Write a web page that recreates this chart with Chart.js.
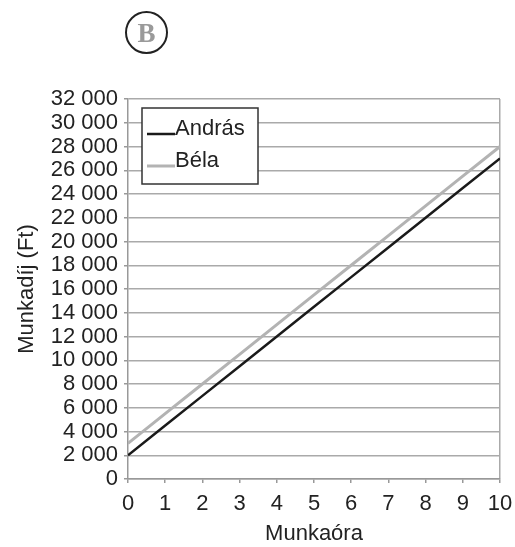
<!DOCTYPE html>
<html>
<head>
<meta charset="utf-8">
<script src="https://cdn.jsdelivr.net/npm/chart.js@4.4.0/dist/chart.umd.min.js"></script>
<style>
  body { margin: 0; background: #fff; }
  #wrap { position: relative; width: 515px; height: 547px; }
  #badge {
    position: absolute; left: 125px; top: 11px; width: 39px; height: 39px;
    border: 2.5px solid #222; border-radius: 50%;
    font: bold 27px "Liberation Serif", serif; color: #9a9a9a;
    text-align: center; line-height: 40px;
  }
</style>
</head>
<body>
<div id="wrap">
  <canvas id="myChart" width="515" height="547"></canvas>
  <div id="badge">B</div>
</div>
<script>
// munkaóra (x) és munkadíj (Ft) a két személyre
const hours = [0, 1, 2, 3, 4, 5, 6, 7, 8, 9, 10];
const andras = [2000, 4500, 7000, 9500, 12000, 14500, 17000, 19500, 22000, 24500, 27000];
const bela = [3000, 5500, 8000, 10500, 13000, 15500, 18000, 20500, 23000, 25500, 28000];
const seriesNames = ['András', 'Béla'];

const fontFamily = '"Liberation Sans", Arial, sans-serif';
const textColor = '#222';
const fontSize = 22;

// legend a diagramon belül, keretben
const boxLegend = {
    id: 'boxLegend',
    afterDraw(chart) {
        const ctx = chart.ctx;
        const x0 = 142, y0 = 108, w = 116, h = 76;
        ctx.save();
        ctx.fillStyle = '#fff';
        ctx.fillRect(x0, y0, w, h);
        ctx.strokeStyle = '#333';
        ctx.lineWidth = 1.5;
        ctx.strokeRect(x0, y0, w, h);
        ctx.font = fontSize + 'px ' + fontFamily;
        ctx.textBaseline = 'middle';
        ctx.fillStyle = textColor;
        chart.data.datasets.forEach((ds, i) => {
            const ly = 134 + i * 32;
            ctx.strokeStyle = ds.borderColor;
            ctx.lineWidth = ds.borderWidth;
            ctx.beginPath();
            ctx.moveTo(147, ly);
            ctx.lineTo(175, ly);
            ctx.stroke();
            ctx.fillText(ds.label, 175, ly - 5);
        });
        ctx.restore();
    }
};

new Chart(document.getElementById('myChart'), {
    type: 'line',
    data: {
        datasets: [
            {
                label: seriesNames[0],
                data: hours.map((h, i) => ({ x: h, y: andras[i] })),
                borderColor: '#1a1a1a',
                borderWidth: 2.5,
                pointRadius: 0,
                tension: 0
            },
            {
                label: seriesNames[1],
                data: hours.map((h, i) => ({ x: h, y: bela[i] })),
                borderColor: '#b3b3b3',
                borderWidth: 3,
                pointRadius: 0,
                tension: 0
            }
        ]
    },
    options: {
        responsive: false,
        animation: false,
        layout: { padding: { top: 99, right: 15, left: 14, bottom: 0 } },
        plugins: { legend: { display: false }, tooltip: { enabled: false } },
        scales: {
            x: {
                type: 'linear',
                min: 0,
                max: 10,
                afterFit: s => { s.height = 68; s.paddingRight = 0; s.paddingLeft = 0; },
                ticks: {
                    stepSize: 1,
                    autoSkip: false,
                    maxRotation: 0,
                    color: textColor,
                    padding: 8,
                    font: { family: fontFamily, size: fontSize }
                },
                grid: {
                    color: c => (c.tick && c.tick.value === 10 ? '#aaa' : 'rgba(0,0,0,0)'),
                    tickColor: '#999',
                    tickLength: 4,
                    lineWidth: 1.5
                },
                border: { color: '#999', width: 1.5 },
                title: {
                    display: true,
                    text: 'Munkaóra',
                    color: textColor,
                    padding: { top: 0, bottom: 0 },
                    font: { family: fontFamily, size: fontSize }
                }
            },
            y: {
                min: 0,
                max: 32000,
                afterFit: s => { s.width = 114; },
                ticks: {
                    stepSize: 2000,
                    autoSkip: false,
                    color: textColor,
                    padding: 6,
                    font: { family: fontFamily, size: fontSize },
                    callback: v => v.toLocaleString('en-US').replace(',', ' ')
                },
                grid: { color: '#aaa', tickColor: '#999', tickLength: 4, lineWidth: 1.5 },
                border: { color: '#999', width: 1.5 },
                title: {
                    display: true,
                    text: 'Munkadíj (Ft)',
                    color: textColor,
                    padding: { top: 0, bottom: 0 },
                    font: { family: fontFamily, size: fontSize }
                }
            }
        }
    },
    plugins: [boxLegend]
});
</script>
</body>
</html>
